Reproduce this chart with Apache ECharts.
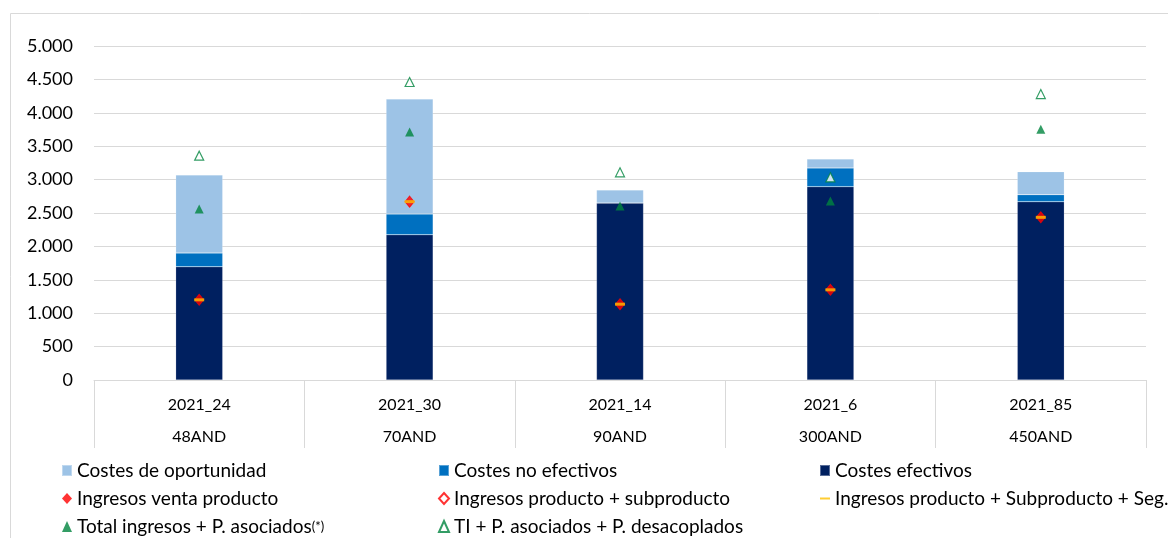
<!DOCTYPE html>
<html>
    <head>
        <meta charset="utf-8">
        <script src="https://cdn.jsdelivr.net/npm/echarts@6/dist/echarts.min.js"></script>
        <style>
            html, body { margin: 0; padding: 0; background: #fff; }
            #main { width: 1168px; height: 538px; }
        </style>
    </head>
    <body>
        <div id="main"></div>
        <script>
            // categories (two levels)
            var codes = ['2021_24', '2021_30', '2021_14', '2021_6', '2021_85'];
            var regions = ['48AND', '70AND', '90AND', '300AND', '450AND'];

            // stacked costs
            var costesEfectivos = [1695, 2175, 2650, 2894, 2669];
            var costesNoEfectivos = [205, 310, 0, 280, 105];
            var costesOportunidad = [1170, 1722, 194, 134, 345];

            // incomes (markers)
            var ingresosVenta = [1200, 2670, 1135, 1350, 2435];
            var ingresosSubproducto = [1200, 2670, 1135, 1350, 2435];
            var ingresosSeg = [1200, 2670, 1135, 1350, 2435];
            var totalIngresos = [2560, 3713, 2605, 2680, 3753];
            var tiDesacoplados = [3358, 4461, 3109, 3034, 4281];

            var font = 'Lato, Calibri, "Open Sans", sans-serif';
            var green = '#00853E';

            var chart = echarts.init(document.getElementById('main'));

            var labels = codes.map(function (c, i) {
                return c + '\n' + regions[i];
            });

            function bar(name, data, color) {
                return {
                    name: name,
                    type: 'bar',
                    stack: 'costes',
                    barWidth: 47,
                    data: data,
                    itemStyle: { color: color, borderColor: 'rgba(255,255,255,0.35)', borderWidth: 0.5 }
                };
            }

            function marker(name, data, symbol, size, style, z) {
                return {
                    name: name,
                    type: 'scatter',
                    data: data,
                    symbol: symbol,
                    symbolSize: size,
                    itemStyle: style,
                    z: z
                };
            }

            var legendText = {
                fontFamily: font,
                fontSize: 19,
                lineHeight: 19,
                color: '#000',
                rich: { s: { fontFamily: font, fontSize: 13, color: '#000' } }
            };
            function legendFmt(name) {
                if (name.indexOf('(*)') > -1) {
                    return name.replace('(*)', '') + '{s|(*)}';
                }
                return name;
            }
            var dashIcon = 'path://M0,5H10V7H0Z';

            function legendCol(left, items) {
                return {
                    orient: 'vertical', left: left, top: 456, height: 120,
                    itemGap: 9, itemWidth: 10, itemHeight: 11,
                    textStyle: legendText, formatter: legendFmt,
                    data: items
                };
            }

            option = {
                animation: false,
                graphic: [{
                    type: 'rect',
                    left: 8,
                    top: 11,
                    shape: { width: 1180, height: 560 },
                    style: { fill: 'none', stroke: '#D9D9D9', lineWidth: 1 },
                    silent: true
                }],
                grid: { left: 94, right: 22, top: 46, bottom: 158 },
                legend: [
                    legendCol(56, [
                        { name: 'Costes de oportunidad', icon: 'rect' },
                        { name: 'Ingresos venta producto', icon: 'diamond' },
                        { name: 'Total ingresos + P. asociados(*)', icon: 'triangle' }
                    ]),
                    legendCol(433, [
                        { name: 'Costes no efectivos', icon: 'rect' },
                        { name: 'Ingresos producto + subproducto', icon: 'diamond' },
                        { name: 'TI + P. asociados + P. desacoplados', icon: 'triangle' }
                    ]),
                    legendCol(814, [
                        { name: 'Costes efectivos', icon: 'rect' },
                        { name: 'Ingresos producto + Subproducto + Seg.', icon: dashIcon }
                    ])
                ],
                xAxis: {
                    type: 'category',
                    data: labels,
                    axisLine: { lineStyle: { color: '#D9D9D9' } },
                    axisTick: {
                        show: true,
                        interval: 0,
                        alignWithLabel: false,
                        length: 68,
                        lineStyle: { color: '#D9D9D9' }
                    },
                    axisLabel: {
                        fontFamily: font,
                        fontSize: 16,
                        color: '#000',
                        lineHeight: 32,
                        margin: 9
                    }
                },
                yAxis: {
                    type: 'value',
                    min: 0,
                    max: 5000,
                    interval: 500,
                    axisLine: { show: false },
                    axisTick: { show: false },
                    splitLine: { lineStyle: { color: '#D9D9D9' } },
                    axisLabel: {
                        fontFamily: font,
                        fontSize: 18,
                        color: '#000',
                        margin: 21,
                        formatter: function (v) {
                            return String(v).replace(/\B(?=(\d{3})+(?!\d))/g, '.');
                        }
                    }
                },
                series: [
                    bar('Costes efectivos', costesEfectivos, '#002060'),
                    bar('Costes no efectivos', costesNoEfectivos, '#0070C0'),
                    bar('Costes de oportunidad', costesOportunidad, '#9DC3E6'),
                    marker('Ingresos venta producto', ingresosVenta, 'diamond', [9, 11],
                        { color: '#FF0000' }, 3),
                    marker('Ingresos producto + subproducto', ingresosSubproducto, 'diamond', [9, 11],
                        { color: 'rgba(255,255,255,0)', borderColor: '#FF0000', borderWidth: 1 }, 4),
                    marker('Ingresos producto + Subproducto + Seg.', ingresosSeg, 'rect', [10, 3],
                        { color: '#FFC000' }, 5),
                    marker('Total ingresos + P. asociados(*)', totalIngresos, 'triangle', 9,
                        { color: green }, 3),
                    marker('TI + P. asociados + P. desacoplados', tiDesacoplados, 'triangle', 9,
                        { color: '#fff', borderColor: green, borderWidth: 1.2 }, 3)
                ]
            };
            chart.setOption(option);
        </script>
    </body>
</html>
